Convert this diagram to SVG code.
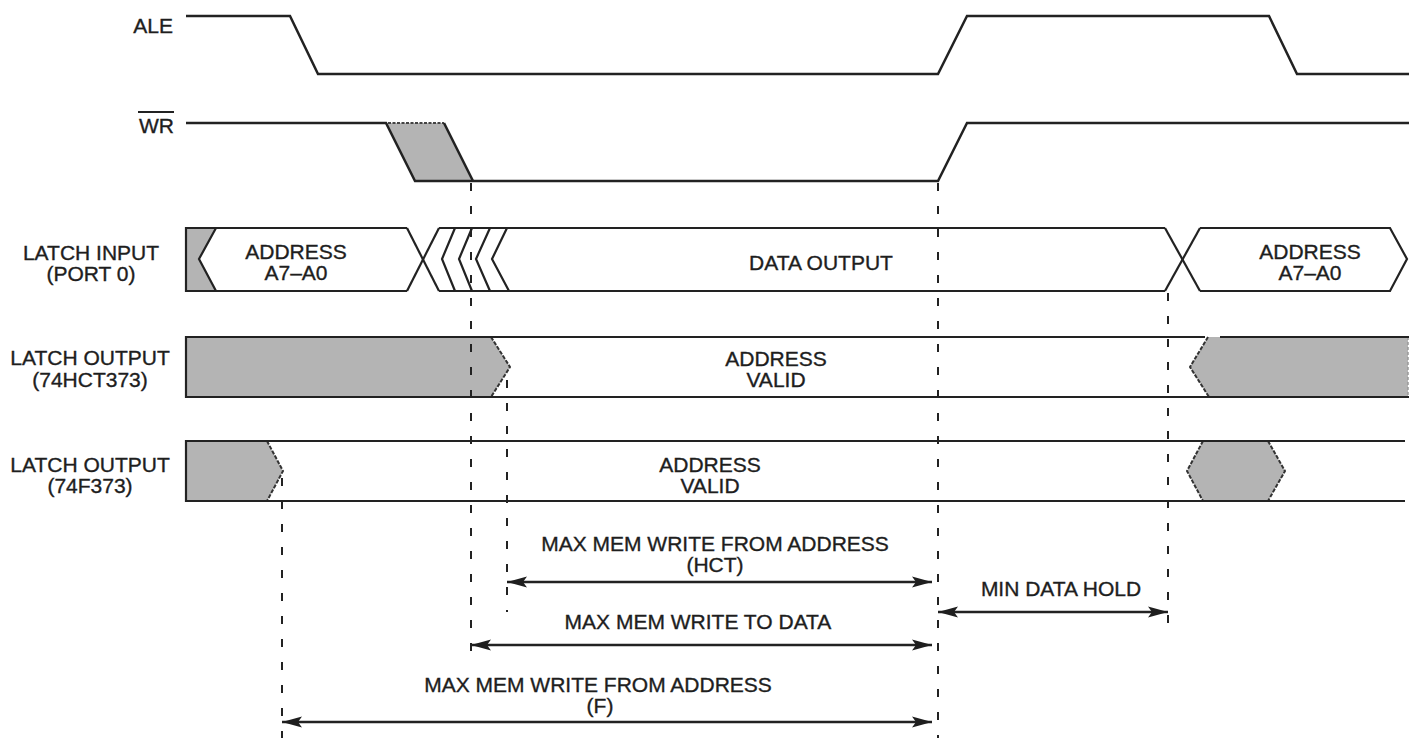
<svg xmlns="http://www.w3.org/2000/svg" width="1409" height="738" viewBox="0 0 1409 738">
<style>
text{font-family:"Liberation Sans",Arial,sans-serif;font-size:21px;fill:#1e1e1e;stroke:#1e1e1e;stroke-width:0.35}
.r{text-anchor:end}
.c{text-anchor:middle}
.sig{fill:none;stroke:#222;stroke-width:2.5;stroke-linejoin:miter}
.bus{fill:none;stroke:#222;stroke-width:2.2}
.gray{fill:#b4b4b4;stroke:none}
.edge{fill:none;stroke:#333;stroke-width:2;stroke-dasharray:4 1.5}
.dash{fill:none;stroke:#222;stroke-width:2;stroke-dasharray:8 15}
.arr{fill:none;stroke:#222;stroke-width:2.5;marker-start:url(#ah);marker-end:url(#ah)}
</style>
<defs>
<marker id="ah" viewBox="0 0 20 12" refX="20" refY="6" markerWidth="20" markerHeight="12" markerUnits="userSpaceOnUse" orient="auto-start-reverse">
<path d="M0,0.5 L20,6 L0,11.5 L4,6 Z" fill="#1e1e1e"/>
</marker>
</defs>
<rect width="1409" height="738" fill="#fff"/>

<g id="ale">
<text class="r" x="173" y="33">ALE</text>
<polyline class="sig" points="186,16 290,16 318,74 938,74 967,16 1269,16 1297,74 1409,74"/>
</g>

<g id="wr">
<text class="r" x="174" y="133">WR</text>
<line x1="138" y1="112" x2="174" y2="112" stroke="#222" stroke-width="2"/>
<polygon class="gray" points="386,123 444,123 473,181 415,181"/>
<line x1="388" y1="123" x2="444" y2="123" stroke="#444" stroke-width="2" stroke-dasharray="3 1.5"/>
<polyline class="sig" points="186,123 386,123 415,181 938,181 967,123 1409,123"/>
<line class="sig" x1="444" y1="123" x2="473" y2="181"/>
</g>

<g id="latch-input">
<text class="c" x="91" y="260">LATCH INPUT</text>
<text class="c" x="91" y="281">(PORT 0)</text>
<polygon class="gray" points="186,228 216,228 199,259 216,291 186,291"/>
<polyline class="bus" points="216,228 199,259 216,291"/>
<line class="bus" x1="186" y1="227" x2="186" y2="292"/>
<line class="bus" x1="186" y1="228" x2="407" y2="228"/>
<line class="bus" x1="186" y1="291" x2="407" y2="291"/>
<line class="bus" x1="407" y1="228" x2="439" y2="291"/>
<line class="bus" x1="407" y1="291" x2="439" y2="228"/>
<polyline class="bus" points="455,228 442,259 455,291"/>
<polyline class="bus" points="472,228 459,259 472,291"/>
<polyline class="bus" points="490,228 476,259 490,291"/>
<polyline class="bus" points="507,228 492,259 509,291"/>
<line class="bus" x1="439" y1="228" x2="1165" y2="228"/>
<line class="bus" x1="439" y1="291" x2="1165" y2="291"/>
<line class="bus" x1="1165" y1="228" x2="1200" y2="291"/>
<line class="bus" x1="1165" y1="291" x2="1200" y2="228"/>
<polyline class="bus" points="1200,228 1390,228 1407,259 1390,291 1200,291"/>
<text class="c" x="296" y="259">ADDRESS</text>
<text class="c" x="296" y="280">A7–A0</text>
<text class="c" x="821" y="270">DATA OUTPUT</text>
<text class="c" x="1310" y="259">ADDRESS</text>
<text class="c" x="1310" y="280">A7–A0</text>
</g>

<g id="latch-output-hct">
<text class="c" x="90" y="365">LATCH OUTPUT</text>
<text class="c" x="90" y="387">(74HCT373)</text>
<polygon class="gray" points="186,337 491,337 510,367 491,397 186,397"/>
<polyline class="edge" points="491,337 510,367 491,397"/>
<polygon class="gray" points="1208,337 1408,337 1408,397 1209,397 1190,367"/>
<polyline class="edge" points="1208,337 1190,367 1209,397"/>
<line x1="1408" y1="337" x2="1408" y2="397" stroke="#999" stroke-width="1.5" stroke-dasharray="3 2"/>
<line class="bus" x1="186" y1="336" x2="186" y2="398"/>
<line class="bus" x1="186" y1="337" x2="1205" y2="337"/>
<line class="bus" x1="1220" y1="337" x2="1409" y2="337"/>
<line class="bus" x1="186" y1="397" x2="1409" y2="397"/>
<text class="c" x="776" y="366">ADDRESS</text>
<text class="c" x="776" y="387">VALID</text>
</g>

<g id="latch-output-f">
<text class="c" x="90" y="472">LATCH OUTPUT</text>
<text class="c" x="90" y="493">(74F373)</text>
<polygon class="gray" points="186,441 267,441 283,471 267,501 186,501"/>
<polyline class="edge" points="267,441 283,471 267,501"/>
<polygon class="gray" points="1203,441 1268,441 1285,471 1268,501 1203,501 1187,471"/>
<polyline class="edge" points="1203,441 1187,471 1203,501"/>
<polyline class="edge" points="1268,441 1285,471 1268,501"/>
<line class="bus" x1="186" y1="440" x2="186" y2="502"/>
<line class="bus" x1="186" y1="441" x2="1405" y2="441"/>
<line class="bus" x1="186" y1="501" x2="1405" y2="501"/>
<text class="c" x="710" y="472">ADDRESS</text>
<text class="c" x="710" y="493">VALID</text>
</g>

<g id="connectors">
<line class="dash" x1="282" y1="478" x2="282" y2="738"/>
<line class="dash" x1="471" y1="183" x2="471" y2="662"/>
<line class="dash" x1="507" y1="380" x2="507" y2="612"/>
<line class="dash" x1="938" y1="183" x2="938" y2="738"/>
<line class="dash" x1="1168" y1="293" x2="1168" y2="630"/>
<line class="arr" x1="507" y1="582" x2="932" y2="582"/>
<line class="arr" x1="471" y1="645" x2="932" y2="645"/>
<line class="arr" x1="282" y1="722" x2="932" y2="722"/>
<line class="arr" x1="938" y1="612" x2="1168" y2="612"/>
</g>

<g id="labels">
<text class="c" x="715" y="551">MAX MEM WRITE FROM ADDRESS</text>
<text class="c" x="715" y="572">(HCT)</text>
<text class="c" x="698" y="629">MAX MEM WRITE TO DATA</text>
<text class="c" x="1061" y="596">MIN DATA HOLD</text>
<text class="c" x="598" y="692">MAX MEM WRITE FROM ADDRESS</text>
<text class="c" x="600" y="713">(F)</text>
</g>
</svg>
